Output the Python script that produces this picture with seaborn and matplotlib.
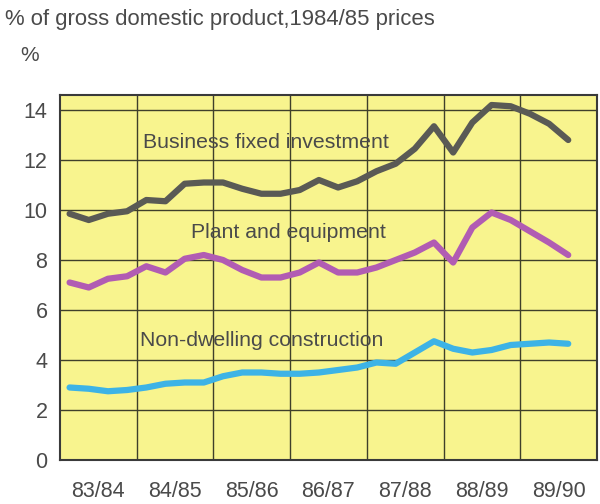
import numpy as np
import pandas as pd
import matplotlib
matplotlib.use("Agg")
import matplotlib.pyplot as plt
import seaborn as sns

years = ["83/84", "84/85", "85/86", "86/87", "87/88", "88/89", "89/90"]

business_fixed = [9.85, 9.6, 9.85, 9.95, 10.4, 10.35, 11.05, 11.1, 11.1, 10.85,
                  10.65, 10.65, 10.8, 11.2, 10.9, 11.15, 11.55, 11.85, 12.45, 13.35,
                  12.3, 13.5, 14.2, 14.15, 13.85, 13.45, 12.8]
plant_equipment = [7.1, 6.9, 7.25, 7.35, 7.75, 7.5, 8.05, 8.2, 8.0, 7.6,
                   7.3, 7.3, 7.5, 7.9, 7.5, 7.5, 7.7, 8.0, 8.3, 8.7,
                   7.9, 9.3, 9.9, 9.6, 9.15, 8.7, 8.2]
non_dwelling = [2.9, 2.85, 2.75, 2.8, 2.9, 3.05, 3.1, 3.1, 3.35, 3.5,
                3.5, 3.45, 3.45, 3.5, 3.6, 3.7, 3.9, 3.85, 4.3, 4.75,
                4.45, 4.3, 4.4, 4.6, 4.65, 4.7, 4.65]

series_names = ["Business fixed investment", "Plant and equipment", "Non-dwelling construction"]
colors = ["#5a5a55", "#b15cb3", "#3db3e6"]

n = len(business_fixed)
quarter_pos = np.arange(n) + 0.5
df = pd.DataFrame({
    "x": np.concatenate([quarter_pos] * 3),
    "value": business_fixed + plant_equipment + non_dwelling,
    "series": np.repeat(series_names, n),
})

sns.set_style("white")
plt.rcParams['font.family'] = ['Liberation Sans', 'DejaVu Sans']

fig = plt.figure(figsize=(6, 5.04), dpi=100)
ax = fig.add_axes([0.1, 0.0873, 0.895, 0.7242])
ax.set_facecolor("#f8f48e")

sns.lineplot(data=df, x="x", y="value", hue="series", palette=dict(zip(series_names, colors)),
             linewidth=4.5, ax=ax, legend=False, sort=False)

ax.set_xlim(0, 28)
ax.set_ylim(0, 14.6)
ax.set_yticks(np.arange(0, 15, 2))
ax.set_yticklabels([str(v) for v in range(0, 15, 2)], fontsize=15.5, color="#4a4a4a")
ax.set_xticks(np.arange(2, 28, 4))
ax.set_xticklabels(years, fontsize=15.5, color="#4a4a4a")
ax.tick_params(axis="both", length=0)
ax.tick_params(axis="y", pad=9)
ax.tick_params(axis="x", pad=15)
ax.set_xlabel("")
ax.set_ylabel("")

for yv in range(2, 15, 2):
    ax.axhline(yv, color="#3f3f2a", lw=1.0, zorder=1)
for xv in range(4, 28, 4):
    ax.axvline(xv, color="#3f3f2a", lw=1.0, zorder=1)

for s in ax.spines.values():
    s.set_visible(True)
    s.set_color("#3a3a3a")
    s.set_linewidth(1.5)

ax.text(4.33, 12.7, "Business fixed investment", fontsize=15.3, color="#4a4a4a", va="center", ha="left")
ax.text(6.83, 9.1, "Plant and equipment", fontsize=15.3, color="#4a4a4a", va="center", ha="left")
ax.text(4.17, 4.8, "Non-dwelling construction", fontsize=15.3, color="#4a4a4a", va="center", ha="left")

fig.text(0.008, 0.962, "% of gross domestic product,1984/85 prices", fontsize=15.9,
         color="#4a4a4a", ha="left", va="center")
fig.text(0.05, 0.89, "%", fontsize=15, color="#4a4a4a", ha="center", va="center")

fig.savefig("out.png", dpi=100)
